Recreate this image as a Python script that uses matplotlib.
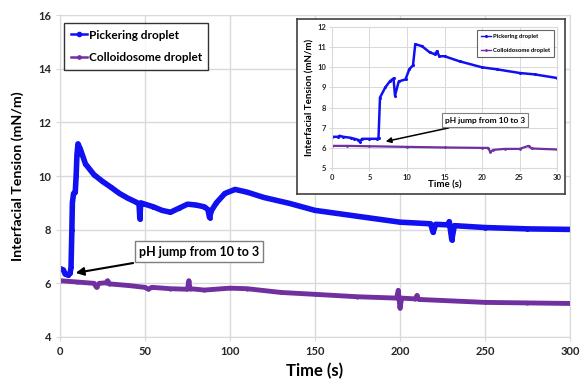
import matplotlib
matplotlib.use('Agg')
import matplotlib.pyplot as plt

plt.rcParams['font.family'] = ['Lato', 'DejaVu Sans']
plt.rcParams['font.weight'] = 'bold'

# main chart, 0-300 s
pick_t = [0, 2, 3, 5, 6, 6.5, 7, 7.3, 8, 9, 9.5, 10, 10.6, 12, 15, 20, 25, 30, 35, 40,
          45, 46.5, 47, 47.5, 50, 55, 60, 65, 70, 75, 80, 85, 87, 88, 89, 92, 97, 103,
          110, 120, 135, 150, 175, 200, 218, 219.5, 221, 228, 229, 230.5, 232, 250, 275, 300]
pick_y = [6.55, 6.5, 6.35, 6.3, 6.4, 6.6, 8.0, 9.0, 9.35, 9.4, 10.0, 10.8, 11.2, 11.0, 10.45,
          10.05, 9.8, 9.58, 9.35, 9.17, 9.02, 8.95, 8.4, 9.0, 8.95, 8.85, 8.72, 8.65, 8.8,
          8.95, 8.92, 8.85, 8.75, 8.45, 8.7, 9.0, 9.35, 9.5, 9.4, 9.2, 8.98, 8.72, 8.5,
          8.28, 8.22, 7.9, 8.2, 8.18, 8.3, 7.62, 8.15, 8.08, 8.03, 8.01]

coll_t = [0, 10, 20, 21.5, 23, 27, 28, 29, 40, 50, 52, 54, 65, 75, 75.8, 76.5, 85, 100,
          110, 130, 150, 175, 198, 199, 200, 201, 209, 210, 211, 250, 275, 300]
coll_y = [6.1, 6.05, 6.0, 5.85, 6.0, 6.02, 6.1, 5.98, 5.92, 5.85, 5.78, 5.85, 5.8, 5.78,
          6.1, 5.8, 5.75, 5.82, 5.8, 5.66, 5.59, 5.5, 5.45, 5.74, 5.07, 5.45, 5.42, 5.55,
          5.4, 5.29, 5.27, 5.25]

# inset, first 30 s
in_pick_t = [0, 0.8, 1, 1.5, 2.5, 3, 3.5, 3.7, 4, 5, 6, 6.2, 6.4, 7.1, 7.7, 8.2, 8.4, 8.9,
             9.8, 10.3, 10.8, 11.1, 12, 13, 13.7, 14, 14.3, 15, 17, 20, 22, 25, 27, 30]
in_pick_y = [6.55, 6.55, 6.6, 6.55, 6.5, 6.45, 6.4, 6.3, 6.45, 6.45, 6.45, 6.5, 8.5, 9.0,
             9.3, 9.45, 8.6, 9.3, 9.4, 9.9, 10.1, 11.15, 11.05, 10.75, 10.65, 10.8, 10.55,
             10.55, 10.3, 10.0, 9.9, 9.72, 9.65, 9.47]

in_coll_t = [0, 2, 5, 10, 15, 20, 20.8, 21.1, 21.5, 23, 25, 26.2, 26.6, 30]
in_coll_y = [6.1, 6.1, 6.08, 6.05, 6.02, 6.0, 6.0, 5.8, 5.9, 5.95, 5.95, 6.1, 5.97, 5.92]

main_xticks = [0, 50, 100, 150, 200, 250, 300]
main_yticks = [4, 6, 8, 10, 12, 14, 16]
in_xticks = [0, 5, 10, 15, 20, 25, 30]
in_yticks = [5, 6, 7, 8, 9, 10, 11, 12]

blue = '#1010f0'
purple = '#7030a0'
grid_c = '#d9d9d9'

fig = plt.figure(figsize=(5.8, 3.81), dpi=100)
ax = fig.add_axes([0.1034, 0.1155, 0.8793, 0.845])

ax.plot(pick_t, pick_y, color=blue, lw=4, marker='o', ms=2.5, label='Pickering droplet')
ax.plot(coll_t, coll_y, color=purple, lw=3.5, marker='o', ms=2, label='Colloidosome droplet')
ax.set_xlim(0, 300)
ax.set_ylim(4, 16)
ax.set_xticks(main_xticks)
ax.set_yticks(main_yticks)
ax.grid(True, color=grid_c, lw=1)
ax.set_axisbelow(True)
for s in ax.spines.values():
    s.set_color(grid_c)
ax.tick_params(length=3, color=grid_c, labelsize=8, labelcolor='#262626')
ax.set_xlabel('Time (s)', fontsize=12, fontweight='bold', labelpad=4)
ax.set_ylabel('Interfacial Tension (mN/m)', fontsize=10.2, fontweight='bold', labelpad=10)

leg = ax.legend(loc='upper left', bbox_to_anchor=(0.008, 0.975), borderaxespad=0,
                fontsize=8.5, frameon=True, fancybox=False, edgecolor='black',
                labelspacing=1.0, handlelength=1.4, handletextpad=0.15, borderpad=0.55,
                markerscale=1.2)
leg.get_frame().set_linewidth(1.0)
for h in leg.get_lines():
    h.set_linewidth(1.8)

ax.annotate('pH jump from 10 to 3', xy=(7.6, 6.37), xytext=(81.8, 7.18),
            fontsize=9, fontweight='bold', ha='center', va='center',
            bbox=dict(boxstyle='square,pad=0.35', fc='white', ec='#7f7f7f', lw=1),
            arrowprops=dict(arrowstyle='-|>', color='black', lw=1.5, mutation_scale=12))

# inset frame
frame = fig.add_axes([0.512, 0.491, 0.462, 0.459])
frame.set_xticks([])
frame.set_yticks([])
frame.set_facecolor('white')
for s in frame.spines.values():
    s.set_color('#404040')
    s.set_linewidth(1.2)

ins = fig.add_axes([0.5724, 0.559, 0.388, 0.370])
ins.plot(in_pick_t, in_pick_y, color=blue, lw=1.8, marker='o', ms=1.2, label='Pickering droplet')
ins.plot(in_coll_t, in_coll_y, color=purple, lw=1.6, marker='o', ms=1, label='Colloidosome droplet')
ins.set_xlim(0, 30)
ins.set_ylim(5, 12)
ins.set_xticks(in_xticks)
ins.set_yticks(in_yticks)
ins.grid(True, color=grid_c, lw=0.7)
ins.set_axisbelow(True)
for s in ins.spines.values():
    s.set_color(grid_c)
ins.tick_params(length=2, color=grid_c, labelsize=5.5, labelcolor='#262626', pad=2)
ins.set_xlabel('Time (s)', fontsize=7, fontweight='bold', labelpad=0)
ins.set_ylabel('Interfacial Tension (mN/m)', fontsize=7, fontweight='bold', labelpad=2)

leg2 = ins.legend(loc='upper right', fontsize=4.2, frameon=True, fancybox=False,
                  edgecolor='#404040', labelspacing=1.5, handlelength=1.8,
                  handletextpad=0.3, borderpad=0.7)
leg2.get_frame().set_linewidth(0.8)
for h in leg2.get_lines():
    h.set_linewidth(1)

ins.annotate('pH jump from 10 to 3', xy=(6.8, 6.29), xytext=(20.4, 7.38),
             fontsize=6, fontweight='bold', ha='center', va='center',
             bbox=dict(boxstyle='square,pad=0.4', fc='white', ec='#7f7f7f', lw=0.8),
             arrowprops=dict(arrowstyle='-|>', color='black', lw=1.1, mutation_scale=8))

fig.savefig('out.png', dpi=100)
